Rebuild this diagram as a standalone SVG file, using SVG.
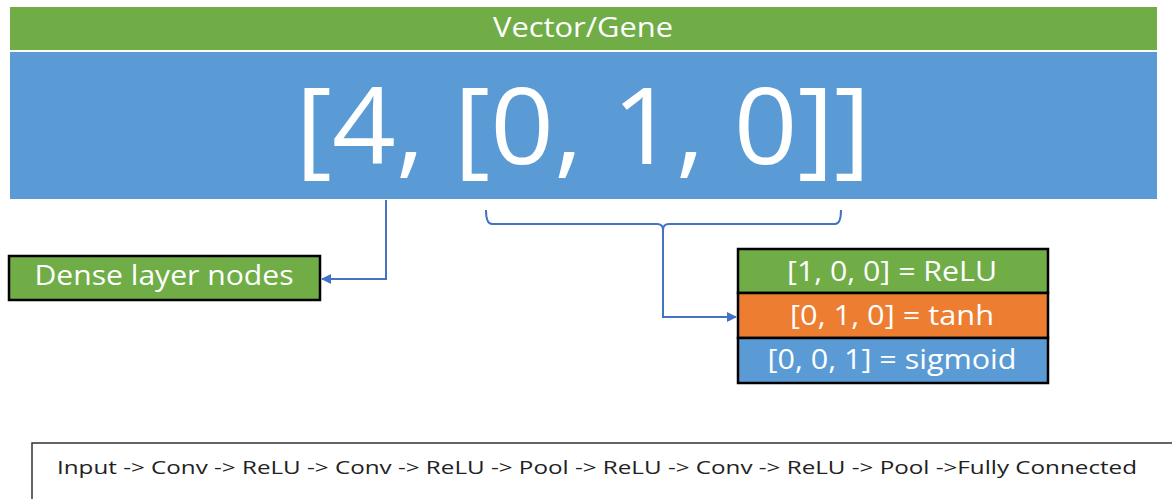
<svg xmlns="http://www.w3.org/2000/svg" width="1172" height="499" viewBox="0 0 1172 499">
  <style>
    .lbl { font-family: "Open Sans", "Noto Sans", "Liberation Sans", sans-serif; fill: #ffffff; text-anchor: middle; }
    .box { stroke: #000000; stroke-width: 2.5; }
    .green { fill: #70ad47; }
    .orange { fill: #ed7d31; }
    .blue { fill: #5b9bd5; }
    .conn { fill: none; stroke: #4472c4; stroke-width: 2; }
    .seq { font-family: "Open Sans", "Noto Sans", "Liberation Sans", sans-serif; fill: #222222; font-size: 19px; }
  </style>
  <defs>
    <marker id="arrow" viewBox="0 0 10 10" refX="9" refY="5" markerWidth="5" markerHeight="5" orient="auto" markerUnits="strokeWidth">
      <path d="M0,0 L10,5 L0,10 z" fill="#4472c4"/>
    </marker>
  </defs>
  <rect width="1172" height="499" fill="#ffffff"/>

  <g id="header">
    <rect x="10" y="7" width="1147" height="43" class="green"/>
    <text x="583" y="37" class="lbl" font-size="28" textLength="180" lengthAdjust="spacingAndGlyphs">Vector/Gene</text>
  </g>

  <g id="gene">
    <rect x="10" y="52" width="1147" height="147" class="blue"/>
    <text x="583" y="164" class="lbl" font-size="106" textLength="575" lengthAdjust="spacingAndGlyphs">[4, [0, 1, 0]]</text>
  </g>

  <g id="dense">
    <rect x="9" y="256" width="311" height="44" class="box green"/>
    <text x="164" y="285" class="lbl" font-size="27" textLength="259" lengthAdjust="spacingAndGlyphs">Dense layer nodes</text>
  </g>

  <g id="activations">
    <rect x="738" y="249" width="310" height="44" class="box green"/>
    <text x="892" y="281" class="lbl" font-size="27" textLength="210" lengthAdjust="spacingAndGlyphs">[1, 0, 0] = ReLU</text>
    <rect x="738" y="293" width="310" height="45" class="box orange"/>
    <text x="892" y="325" class="lbl" font-size="27" textLength="204" lengthAdjust="spacingAndGlyphs">[0, 1, 0] = tanh</text>
    <rect x="738" y="338" width="310" height="45" class="box blue"/>
    <text x="892" y="369" class="lbl" font-size="27" textLength="249" lengthAdjust="spacingAndGlyphs">[0, 0, 1] = sigmoid</text>
  </g>

  <g id="connectors">
    <path d="M386,200 V279 H322" class="conn" marker-end="url(#arrow)"/>
    <path d="M486,210 Q486,224 492,224 H657 Q663,224 663,230 Q663,224 669,224 H835 Q841,224 841,210" class="conn"/>
    <path d="M663,226 V317 H736" class="conn" marker-end="url(#arrow)"/>
  </g>

  <g id="sequence">
    <rect x="32" y="443" width="1150" height="70" fill="none" stroke="#333333" stroke-width="1.5"/>
    <text x="57" y="474" class="seq" textLength="1080" lengthAdjust="spacingAndGlyphs">Input -&gt; Conv -&gt; ReLU -&gt; Conv -&gt; ReLU -&gt; Pool -&gt; ReLU -&gt; Conv -&gt; ReLU -&gt; Pool -&gt;Fully Connected</text>
  </g>
</svg>
